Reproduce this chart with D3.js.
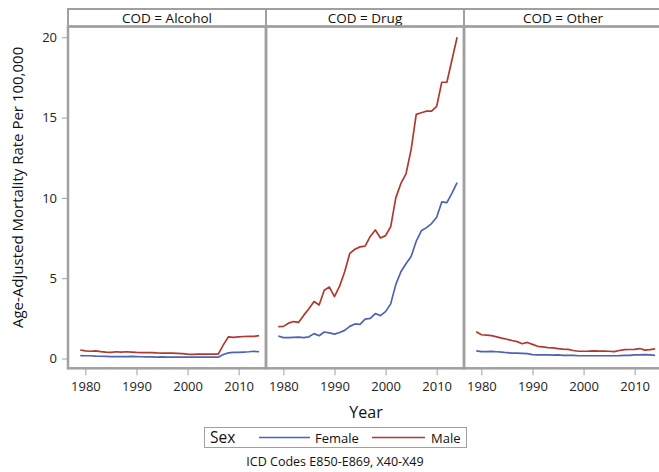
<!DOCTYPE html>
<html>
<head>
<meta charset="utf-8">
<script src="https://cdn.jsdelivr.net/npm/d3@7"></script>
<style>
  html, body { margin: 0; padding: 0; background: #fff; }
  svg { display: block; font-family: "Open Sans", "DejaVu Sans", sans-serif; }
</style>
</head>
<body>
<svg id="chart" width="659" height="472"></svg>
<script>
const years = d3.range(1979, 2015);
const panels = ["Alcohol", "Drug", "Other"];
const sexes = ["Female", "Male"];
const yTicks = [0, 5, 10, 15, 20];
const xTicks = [1980, 1990, 2000, 2010];

const alcoholFemale = [0.18, 0.17, 0.17, 0.15, 0.14, 0.13, 0.12, 0.12, 0.12, 0.12, 0.13, 0.12, 0.11, 0.10, 0.10, 0.09, 0.10, 0.09,
                       0.09, 0.08, 0.08, 0.08, 0.08, 0.08, 0.08, 0.08, 0.08, 0.08, 0.25, 0.35, 0.38, 0.38, 0.40, 0.42, 0.45, 0.42];
const alcoholMale   = [0.53, 0.47, 0.45, 0.47, 0.43, 0.40, 0.38, 0.42, 0.40, 0.42, 0.40, 0.38, 0.37, 0.36, 0.37, 0.35, 0.34, 0.33,
                       0.34, 0.32, 0.30, 0.27, 0.26, 0.27, 0.28, 0.27, 0.27, 0.27, 0.85, 1.35, 1.32, 1.35, 1.37, 1.38, 1.38, 1.42];
const drugFemale    = [1.40, 1.30, 1.30, 1.32, 1.33, 1.30, 1.35, 1.55, 1.42, 1.65, 1.60, 1.52, 1.62, 1.75, 2.00, 2.15, 2.12, 2.45,
                       2.50, 2.80, 2.67, 2.92, 3.40, 4.60, 5.40, 5.90, 6.35, 7.30, 7.95, 8.15, 8.40, 8.80, 9.75, 9.70, 10.30, 10.95];
const drugMale      = [1.98, 2.00, 2.20, 2.30, 2.25, 2.70, 3.10, 3.55, 3.33, 4.25, 4.45, 3.85, 4.50, 5.40, 6.55, 6.80, 6.95, 7.00,
                       7.60, 8.00, 7.50, 7.65, 8.20, 10.00, 10.90, 11.50, 13.00, 15.20, 15.30, 15.40, 15.40, 15.70, 17.20, 17.20, 18.60, 20.00];
const otherFemale   = [0.47, 0.43, 0.43, 0.44, 0.42, 0.40, 0.36, 0.34, 0.33, 0.32, 0.30, 0.24, 0.22, 0.22, 0.22, 0.21, 0.22, 0.20,
                       0.20, 0.19, 0.17, 0.17, 0.17, 0.17, 0.17, 0.17, 0.17, 0.17, 0.18, 0.20, 0.20, 0.22, 0.22, 0.24, 0.22, 0.20];
const otherMale     = [1.67, 1.48, 1.45, 1.42, 1.35, 1.27, 1.20, 1.12, 1.05, 0.92, 1.00, 0.88, 0.76, 0.72, 0.68, 0.66, 0.62, 0.58,
                       0.57, 0.50, 0.45, 0.45, 0.46, 0.48, 0.46, 0.46, 0.45, 0.43, 0.50, 0.55, 0.56, 0.57, 0.62, 0.52, 0.55, 0.60];

const series = {
    Alcohol: { Female: alcoholFemale, Male: alcoholMale },
    Drug:    { Female: drugFemale,    Male: drugMale },
    Other:   { Female: otherFemale,   Male: otherMale }
};
const colors = { Female: "#4d63b3", Male: "#b03a30" };
const border = "#a0a0a0";

(function () {
    const svg = d3.select("#chart");
    const left0 = 68, panelW = 198, top = 26.5, bottom = 368.3, headTop = 9;

    const x = d3.scaleLinear().domain([1976.6, 2015.35]).range([0, panelW]);
    const y = d3.scaleLinear().domain([-0.61, 20.67]).range([bottom, top]);

    // y axis
    const ya = svg.append("g")
        .attr("transform", `translate(${left0},0)`)
        .call(d3.axisLeft(y).tickValues(yTicks).tickSize(6).tickPadding(5));
    ya.select(".domain").remove();
    ya.selectAll("line").attr("stroke", border);
    ya.selectAll("text").style("font-size", "13px").attr("fill", "#222")
        .style("font-family", "'Open Sans', sans-serif");

    svg.append("text")
        .attr("transform", `translate(23,${(top + bottom) / 2 - 10}) rotate(-90)`)
        .attr("text-anchor", "middle")
        .style("font-size", "15px").attr("fill", "#111")
        .text("Age-Adjusted Mortality Rate Per 100,000");

    const line = d3.line().x((d, i) => x(years[i])).y(d => y(d));

    panels.forEach((p, k) => {
        const g = svg.append("g").attr("transform", `translate(${left0 + k * panelW},0)`);

        sexes.forEach(s => {
            g.append("path")
                .datum(series[p][s])
                .attr("fill", "none")
                .attr("stroke", colors[s])
                .attr("stroke-width", 1.7)
                .attr("stroke-linejoin", "round")
                .attr("d", line);
        });

        const xa = g.append("g")
            .attr("transform", `translate(0,${bottom})`)
            .call(d3.axisBottom(x).tickValues(xTicks).tickFormat(d3.format("d")).tickSize(7).tickPadding(6));
        xa.select(".domain").remove();
        xa.selectAll("line").attr("stroke", border);
        xa.selectAll("text").style("font-size", "13px").attr("fill", "#222")
            .style("font-family", "'Open Sans', sans-serif");

        // header strip
        g.append("rect")
            .attr("x", 0).attr("y", headTop)
            .attr("width", panelW).attr("height", top - headTop)
            .attr("fill", "none").attr("stroke", border).attr("stroke-width", 2);
        g.append("text")
            .attr("x", panelW / 2).attr("y", (headTop + top) / 2 + 5)
            .attr("text-anchor", "middle")
            .style("font-size", "13.5px").attr("fill", "#111")
            .text(`COD = ${p}`);

        // panel frame
        g.append("rect")
            .attr("x", 0).attr("y", top)
            .attr("width", panelW).attr("height", bottom - top)
            .attr("fill", "none").attr("stroke", border).attr("stroke-width", 2.5);
    });

    svg.append("text")
        .attr("x", 366).attr("y", 418)
        .attr("text-anchor", "middle")
        .style("font-size", "16px").attr("fill", "#111")
        .text("Year");

    // legend
    const lg = svg.append("g");
    lg.append("rect")
        .attr("x", 204.5).attr("y", 427.5).attr("width", 262).attr("height", 20)
        .attr("fill", "none").attr("stroke", border).attr("stroke-width", 1);
    lg.append("text")
        .attr("x", 210).attr("y", 443)
        .style("font-size", "15.5px").attr("fill", "#111")
        .text("Sex");
    const items = [
        { s: "Female", x0: 259, x1: 310, tx: 315 },
        { s: "Male", x0: 372, x1: 425, tx: 431 }
    ];
    items.forEach(it => {
        lg.append("line")
            .attr("x1", it.x0).attr("x2", it.x1)
            .attr("y1", 437.5).attr("y2", 437.5)
            .attr("stroke", colors[it.s]).attr("stroke-width", 1.7);
        lg.append("text")
            .attr("x", it.tx).attr("y", 442.5)
            .style("font-size", "13px").attr("fill", "#111")
            .text(it.s);
    });

    svg.append("text")
        .attr("x", 335).attr("y", 466)
        .attr("text-anchor", "middle")
        .style("font-size", "12.5px").attr("fill", "#111")
        .text("ICD Codes E850-E869, X40-X49");
})();
</script>
</body>
</html>
